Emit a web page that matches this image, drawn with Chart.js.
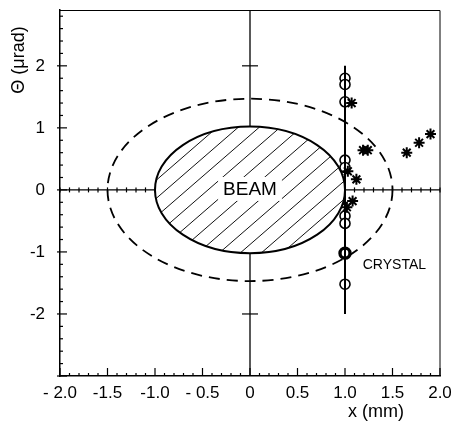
<!DOCTYPE html>
<html>
<head>
<meta charset="utf-8">
<script src="https://cdn.jsdelivr.net/npm/chart.js@4/dist/chart.umd.min.js"></script>
<style>
html, body { margin: 0; padding: 0; background: #fff; }
#wrap { width: 451px; height: 425px; }
</style>
</head>
<body>
<div id="wrap"><canvas id="crystalChart" width="451" height="425"></canvas></div>
<script>
// tick labels
const xTickValues = [-2, -1.5, -1, -0.5, 0, 0.5, 1, 1.5, 2];
const xTickLabels = ['- 2.0', '-1.5', '-1.0', '- 0.5', '0', '0.5', '1.0', '1.5', '2.0'];
const yTickValues = [-2, -1, 0, 1, 2];
const yTickLabels = ['-2', '-1', '0', '1', '2'];

// measured points (x in mm, theta in urad)
const crystalX = 1.0;
const circleY = [1.80, 1.70, 1.42, 0.48, 0.36, -0.42, -0.54, -1.52];
const boldCircleY = [-1.02];
const starX = [1.07, 1.19, 1.24, 1.65, 1.78, 1.90, 1.03, 1.12, 1.08, 1.02];
const starY = [1.40, 0.64, 0.64, 0.60, 0.76, 0.90, 0.30, 0.17, -0.18, -0.28];

// crystal extent and beam/envelope ellipses
const crystalRange = [-2.0, 2.0];
const beamRadii = [1.0, 1.02];
const envelopeRadii = [1.5, 1.47];

const FONT = '"Liberation Sans", Arial, sans-serif';

const drawingPlugin = {
  id: 'crystalDrawing',
  beforeDatasetsDraw(chart) {
    const { ctx, scales: { x, y } } = chart;
    const cx = x.getPixelForValue(0), cy = y.getPixelForValue(0);
    const ellipse = (r) => {
      ctx.beginPath();
      ctx.ellipse(cx, cy, Math.abs(x.getPixelForValue(r[0]) - cx),
        Math.abs(y.getPixelForValue(r[1]) - cy), 0, 0, Math.PI * 2);
    };
    ctx.save();
    // hatching
    ellipse(beamRadii);
    ctx.clip();
    ctx.strokeStyle = '#111';
    ctx.lineWidth = 1;
    for (let k = -20; k <= 20; k++) {
      const x0 = cx + k * 21;
      ctx.beginPath();
      ctx.moveTo(x0 - 300, cy + 260);
      ctx.lineTo(x0 + 300, cy - 260);
      ctx.stroke();
    }
    ctx.restore();

    ctx.save();
    ctx.strokeStyle = '#000';
    ctx.lineWidth = 2;
    ellipse(beamRadii);
    ctx.stroke();
    ctx.setLineDash([11, 7]);
    ctx.lineWidth = 1.8;
    ellipse(envelopeRadii);
    ctx.stroke();
    ctx.setLineDash([]);

    // BEAM label
    ctx.font = '19px ' + FONT;
    ctx.textAlign = 'center';
    ctx.textBaseline = 'middle';
    const w = ctx.measureText('BEAM').width;
    ctx.fillStyle = '#fff';
    ctx.fillRect(cx - w / 2 - 5, cy - 13, w + 10, 24);
    ctx.fillStyle = '#000';
    ctx.fillText('BEAM', cx, cy);
    ctx.restore();
  },
  afterDatasetsDraw(chart) {
    const { ctx, chartArea: a, scales: { x, y } } = chart;
    ctx.save();
    ctx.strokeStyle = '#000';
    // frame top / right
    ctx.lineWidth = 1;
    ctx.beginPath();
    ctx.moveTo(a.left, a.top + 0.5);
    ctx.lineTo(a.right, a.top + 0.5);
    ctx.lineTo(a.right, a.bottom);
    ctx.stroke();
    // inward ticks on bottom axis
    ctx.lineWidth = 1.2;
    for (let i = -20; i <= 20; i++) {
      const px = x.getPixelForValue(i / 10);
      const len = i % 5 === 0 ? 8 : 3;
      ctx.beginPath();
      ctx.moveTo(px, a.bottom);
      ctx.lineTo(px, a.bottom - len);
      ctx.stroke();
    }
    // inward ticks on left axis
    for (let i = -15; i <= 14; i++) {
      const py = y.getPixelForValue(i / 5);
      const len = i % 5 === 0 ? 7 : 3;
      ctx.beginPath();
      ctx.moveTo(a.left - (i % 5 === 0 ? 3 : 0), py);
      ctx.lineTo(a.left + len, py);
      ctx.stroke();
    }
    // small ticks on the horizontal centre line
    const cy = y.getPixelForValue(0);
    for (let i = -20; i <= 20; i++) {
      if (Math.abs(i) < 10) continue;
      const px = x.getPixelForValue(i / 10);
      ctx.beginPath();
      ctx.moveTo(px, cy - 2.5);
      ctx.lineTo(px, cy + 2.5);
      ctx.stroke();
    }
    // marks on the vertical centre line
    const cx = x.getPixelForValue(0);
    [-2, 2].forEach(v => {
      const py = y.getPixelForValue(v);
      ctx.beginPath();
      ctx.moveTo(cx - 8, py);
      ctx.lineTo(cx + 8, py);
      ctx.stroke();
    });

    // texts
    ctx.fillStyle = '#000';
    ctx.font = '14px ' + FONT;
    ctx.textAlign = 'center';
    ctx.textBaseline = 'middle';
    ctx.fillText('CRYSTAL', x.getPixelForValue(1.52), y.getPixelForValue(-1.21));

    ctx.font = '18px ' + FONT;
    ctx.fillText('x (mm)', 376, 412);
    ctx.translate(19, 60);
    ctx.rotate(-Math.PI / 2);
    ctx.fillText('\u0398 (\u03bcrad)', 0, 0);
    ctx.restore();
  }
};

const lineStyle = {
  type: 'line',
  borderColor: '#000',
  pointRadius: 0,
  spanGaps: false,
  fill: false
};

new Chart(document.getElementById('crystalChart'), {
  type: 'scatter',
  data: {
    datasets: [
      Object.assign({
        data: [{ x: 0, y: -3 }, { x: 0, y: -beamRadii[1] }, { x: 0, y: null },
               { x: 0, y: beamRadii[1] }, { x: 0, y: 2.9 }],
        borderWidth: 1.3
      }, lineStyle),
      Object.assign({
        data: [{ x: -2, y: 0 }, { x: -beamRadii[0], y: 0 }, { x: 0, y: null },
               { x: crystalX, y: 0 }, { x: 2, y: 0 }],
        borderWidth: 1.3
      }, lineStyle),
      Object.assign({
        data: crystalRange.map(v => ({ x: crystalX, y: v })),
        borderWidth: 2
      }, lineStyle),
      {
        data: starX.map((v, i) => ({ x: v, y: starY[i] })),
        pointStyle: 'star',
        pointRadius: 5.5,
        borderWidth: 2,
        borderColor: '#000'
      },
      {
        data: circleY.map(v => ({ x: crystalX, y: v })),
        pointStyle: 'circle',
        pointRadius: 5,
        borderWidth: 1.6,
        borderColor: '#000',
        backgroundColor: '#fff'
      },
      {
        data: boldCircleY.map(v => ({ x: crystalX, y: v })),
        pointStyle: 'circle',
        pointRadius: 5,
        borderWidth: 3.4,
        borderColor: '#000',
        backgroundColor: '#fff'
      }
    ]
  },
  options: {
    responsive: false,
    animation: false,
    devicePixelRatio: 1,
    layout: { padding: { top: 10, right: 11, left: 0, bottom: 0 } },
    plugins: { legend: { display: false }, tooltip: { enabled: false } },
    scales: {
      x: {
        type: 'linear',
        min: -2,
        max: 2,
        afterBuildTicks: s => { s.ticks = xTickValues.map(v => ({ value: v })); },
        afterFit: s => { s.height = 49; s.paddingLeft = 0; s.paddingRight = 0; },
        grid: { display: false, drawTicks: false },
        border: { display: true, color: '#000', width: 1.5 },
        ticks: {
          autoSkip: false,
          maxRotation: 0,
          padding: 7,
          color: '#000',
          font: { family: FONT, size: 17 },
          callback: v => xTickLabels[xTickValues.indexOf(v)]
        }
      },
      y: {
        type: 'linear',
        min: -3,
        max: 2.9,
        afterBuildTicks: s => { s.ticks = yTickValues.map(v => ({ value: v })); },
        afterFit: s => { s.width = 60; s.paddingTop = 0; s.paddingBottom = 0; },
        grid: { display: false, drawTicks: false },
        border: { display: true, color: '#000', width: 1.5 },
        ticks: {
          padding: 15,
          color: '#000',
          font: { family: FONT, size: 17 },
          callback: v => yTickLabels[yTickValues.indexOf(v)]
        }
      }
    }
  },
  plugins: [drawingPlugin]
});
</script>
</body>
</html>
